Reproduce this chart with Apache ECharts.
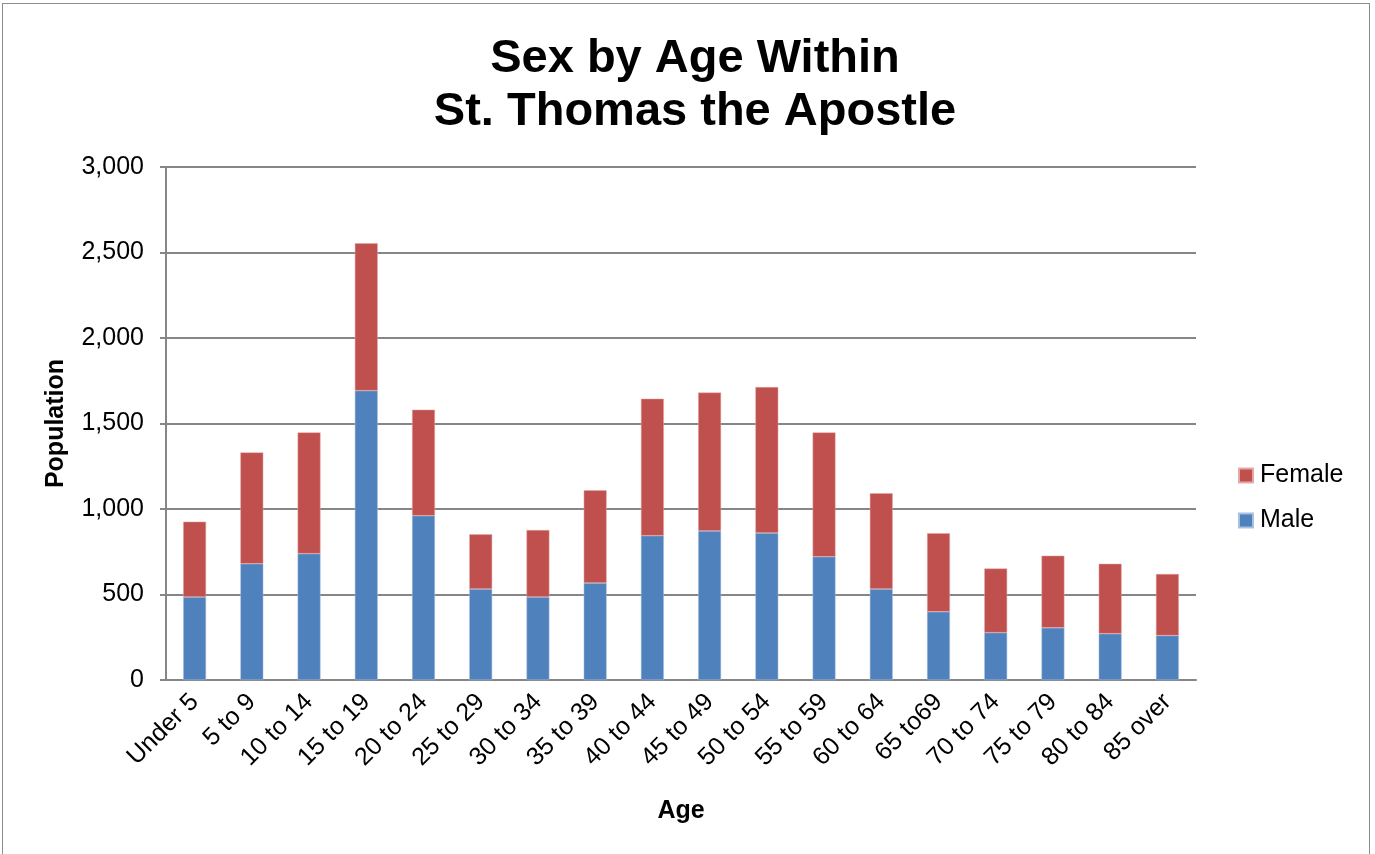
<!DOCTYPE html>
<html>
<head>
<meta charset="utf-8">
<script src="https://cdn.jsdelivr.net/npm/echarts@6/dist/echarts.min.js"></script>
<style>
    html, body { margin: 0; padding: 0; background: #fff; }
    #frame { position: absolute; left: 2px; top: 3px; width: 1368px; height: 860px; border: 1px solid #8c8c8c; box-sizing: border-box; }
    #chart { position: absolute; left: 0; top: 0; width: 1375px; height: 854px; }
</style>
</head>
<body>
<div id="frame"></div>
<div id="chart"></div>
<script>
const ageGroups = ['Under 5', '5 to 9', '10 to 14', '15 to 19', '20 to 24', '25 to 29', '30 to 34', '35 to 39',
    '40 to 44', '45 to 49', '50 to 54', '55 to 59', '60 to 64', '65 to69', '70 to 74', '75 to 79', '80 to 84', '85 over'];
const male = [485, 680, 739, 1692, 961, 532, 485, 567, 844, 872, 860, 721, 532, 399, 277, 305, 271, 260];
const female = [441, 651, 709, 862, 620, 320, 392, 543, 801, 809, 853, 727, 560, 459, 375, 422, 409, 360];
const yTicks = { min: 0, max: 3000, step: 500 };

const font = 'Liberation Sans, Arial, sans-serif';
const myChart = echarts.init(document.getElementById('chart'), null, { renderer: 'canvas' });

const option = {
    animation: false,
    title: {
        text: 'Sex by Age Within\nSt. Thomas the Apostle',
        left: 690,
        top: 28,
        textAlign: 'center',
        textStyle: { fontFamily: font, fontSize: 47, fontWeight: 'bold', color: '#000', lineHeight: 53 },
    },
    legend: {
        data: ['Female', 'Male'],
        orient: 'vertical',
        left: 1233,
        top: 458,
        itemWidth: 14,
        itemHeight: 14,
        itemGap: 20,
        icon: 'rect',
        textStyle: { fontFamily: font, fontSize: 25, color: '#000', padding: [0, 0, 0, 2] },
    },
    grid: { left: 166, right: 179, top: 167, bottom: 174 },
    xAxis: {
        type: 'category',
        data: ageGroups,
        name: 'Age',
        nameLocation: 'middle',
        nameGap: 119,
        nameTextStyle: { fontFamily: font, fontSize: 25, fontWeight: 'bold', color: '#000' },
        axisLine: { lineStyle: { color: '#868686', width: 2 } },
        axisTick: { alignWithLabel: false, length: 8, lineStyle: { color: '#868686', width: 2 } },
        axisLabel: { rotate: 45, interval: 0, fontFamily: font, fontSize: 25, color: '#000', margin: 18 },
    },
    yAxis: {
        type: 'value',
        min: yTicks.min,
        max: yTicks.max,
        interval: yTicks.step,
        name: 'Population',
        nameLocation: 'middle',
        nameGap: 97,
        nameTextStyle: { fontFamily: font, fontSize: 25, fontWeight: 'bold', color: '#000' },
        axisLine: { show: true, lineStyle: { color: '#868686', width: 2 } },
        axisTick: { show: true, length: 6, lineStyle: { color: '#868686', width: 2 } },
        axisLabel: {
            fontFamily: font, fontSize: 25, color: '#000', margin: 22,
            formatter: v => v.toLocaleString('en-US'),
        },
        splitLine: { lineStyle: { color: '#868686', width: 2 } },
    },
    series: [
        {
            name: 'Male',
            type: 'bar',
            stack: 'total',
            data: male,
            barWidth: '40%',
            itemStyle: { color: '#4F81BD', borderColor: '#a9c0e0', borderWidth: 0.5 },
        },
        {
            name: 'Female',
            type: 'bar',
            stack: 'total',
            data: female,
            barWidth: '40%',
            itemStyle: { color: '#C0504D', borderColor: '#e3a9a7', borderWidth: 0.5 },
        },
    ],
};
myChart.setOption(option);
</script>
</body>
</html>
